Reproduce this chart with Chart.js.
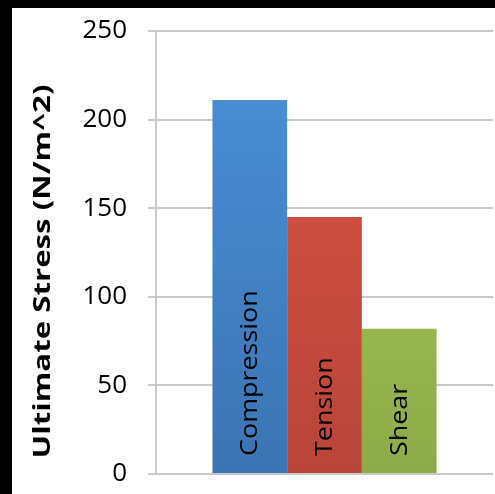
<!DOCTYPE html>
<html>
<head>
<meta charset="utf-8">
<script src="https://cdn.jsdelivr.net/npm/chart.js@4/dist/chart.umd.min.js"></script>
<style>
  html, body { margin: 0; padding: 0; background: #fff; overflow: hidden; width: 495px; height: 494px; }
  #wrap { width: 483px; height: 486px; background: #fff;
          border-left: 12px solid #000; border-top: 8px solid #000; }
  canvas { display: block; }
</style>
</head>
<body>
<div id="wrap"><canvas id="stressChart" width="483" height="486"></canvas></div>
<script>
// data
const categories = ["Compression", "Tension", "Shear"];
const stressValues = [211, 145, 82];
const yMin = 0;
const yMax = 250;
const yStep = 50;
const yTitle = "Ultimate Stress (N/m^2)";

// top/bottom colours of each bar's shading
const barColorsTop = ["#4b91d9", "#da5444", "#aacd5e"];
const barColorsBottom = ["#3b74b3", "#b9453a", "#8dab48"];

const FONT = "'Open Sans', 'DejaVu Sans', sans-serif";

function barGradient(i) {
  return (ctx) => {
    const area = ctx.chart.chartArea;
    if (!area) return barColorsTop[i];
    const g = ctx.chart.ctx.createLinearGradient(0, area.top, 0, area.bottom);
    g.addColorStop(0, barColorsTop[i]);
    g.addColorStop(1, barColorsBottom[i]);
    return g;
  };
}

// the original's vertical text is stretched along its length (narrow Calibri look)
function drawUpright(ctx, text, x, y, font, stretch, align) {
  ctx.save();
  ctx.translate(x, y);
  ctx.rotate(-Math.PI / 2);
  ctx.scale(stretch, 1);
  ctx.fillStyle = "#000";
  ctx.font = font;
  ctx.textAlign = align;
  ctx.textBaseline = "middle";
  ctx.fillText(text, 0, 1);
  ctx.restore();
}

// series names inside the bars + the y axis title
const uprightText = {
  id: "uprightText",
  afterDatasetsDraw(chart) {
    chart.data.datasets.forEach((ds, i) => {
      const bar = chart.getDatasetMeta(i).data[0];
      if (!bar) return;
      drawUpright(chart.ctx, ds.label, bar.x, bar.base - 17, "23px " + FONT, 1.17, "left");
    });
    const y = chart.scales.y;
    drawUpright(chart.ctx, yTitle, y.left + 30, (y.top + y.bottom) / 2 + 19,
      "bold 24px " + FONT, 1.3, "center");
  }
};

new Chart(document.getElementById("stressChart"), {
  type: "bar",
  data: {
    labels: [""],
    datasets: categories.map((name, i) => ({
      label: name,
      data: [stressValues[i]],
      backgroundColor: barGradient(i),
      borderWidth: 0,
      barPercentage: 1,
      categoryPercentage: 0.665
    }))
  },
  options: {
    responsive: false,
    animation: false,
    layout: { padding: { top: 23, right: 2, bottom: 20, left: 0 } },
    plugins: {
      legend: { display: false },
      tooltip: { enabled: false }
    },
    scales: {
      x: { display: false },
      y: {
        min: yMin,
        max: yMax,
        afterFit: (scale) => {
          scale.width = 144;
          // tick padding is horizontal only here, don't let it push the plot in
          scale.paddingTop = 15;
          scale.paddingBottom = 15;
        },
        ticks: {
          stepSize: yStep,
          color: "#000",
          padding: 21,
          font: { family: FONT, size: 26 }
        },
        grid: { color: "#c9c9c9", lineWidth: 2, tickLength: 8 },
        border: { color: "#c9c9c9", width: 2 },
        title: { display: false, text: yTitle }
      }
    }
  },
  plugins: [uprightText]
});
</script>
</body>
</html>
